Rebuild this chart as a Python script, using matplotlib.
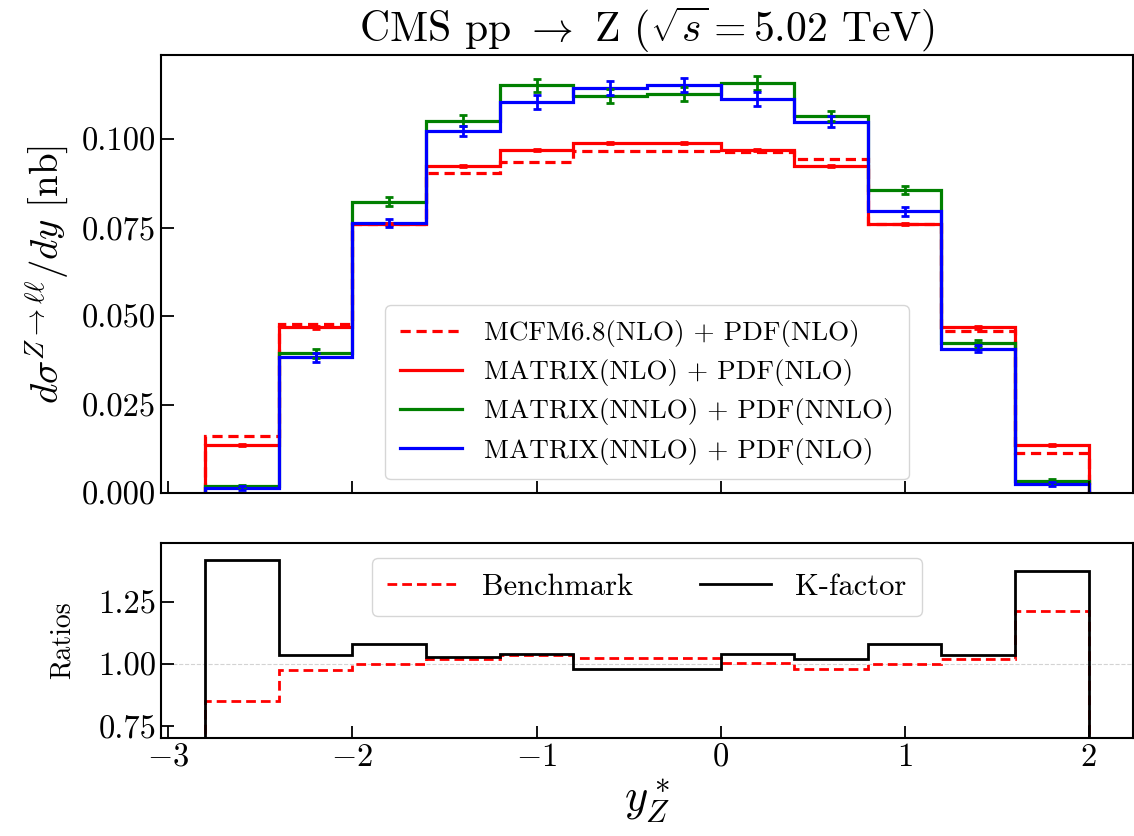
import numpy as np
import matplotlib
matplotlib.use("Agg")
import matplotlib.pyplot as plt

plt.rcParams.update({
    "font.family": "serif",
    "font.serif": ["cmr10"],
    "mathtext.fontset": "cm",
    "axes.formatter.use_mathtext": True,
    "axes.unicode_minus": True,
})

# bin edges in y*_Z
edges = np.array([-2.8, -2.4, -2.0, -1.6, -1.2, -0.8, -0.4, 0.0, 0.4, 0.8, 1.2, 1.6, 2.0])

# dsigma/dy [nb]
mcfm_nlo = [0.0160, 0.0478, 0.0760, 0.0906, 0.0937, 0.0967, 0.0967, 0.0964, 0.0944, 0.0761, 0.0459, 0.0113]
matrix_nlo = [0.0136, 0.0468, 0.0761, 0.0924, 0.0970, 0.0989, 0.0989, 0.0970, 0.0924, 0.0761, 0.0468, 0.0136]
matrix_nnlo_nnlo = [0.0019, 0.0395, 0.0824, 0.1053, 0.1153, 0.1123, 0.1129, 0.1160, 0.1066, 0.0857, 0.0424, 0.0033]
matrix_nnlo_nlo = [0.0014, 0.0384, 0.0763, 0.1024, 0.1106, 0.1144, 0.1153, 0.1113, 0.1050, 0.0796, 0.0408, 0.0025]

err_nlo = [0.0002, 0.0003, 0.0003, 0.0003, 0.0003, 0.0003, 0.0003, 0.0003, 0.0003, 0.0003, 0.0003, 0.0002]
err_nnlo_nnlo = [0.0005, 0.0013, 0.0012, 0.0015, 0.0019, 0.0020, 0.0020, 0.0020, 0.0015, 0.0012, 0.0010, 0.0006]
err_nnlo_nlo = [0.0005, 0.0013, 0.0012, 0.0015, 0.0019, 0.0020, 0.0020, 0.0020, 0.0015, 0.0012, 0.0010, 0.0006]

# ratios
benchmark = [0.848, 0.973, 0.997, 1.020, 1.034, 1.024, 1.024, 1.004, 0.980, 1.000, 1.020, 1.212]
kfactor = [1.416, 1.034, 1.078, 1.027, 1.040, 0.980, 0.980, 1.040, 1.017, 1.077, 1.036, 1.374]

centers = 0.5 * (edges[:-1] + edges[1:])

fig = plt.figure(figsize=(11.34, 8.36), dpi=100)
ax = fig.add_axes([0.142, 0.4103, 0.857, 0.5237])
rax = fig.add_axes([0.142, 0.1172, 0.857, 0.2333], sharex=ax)

lw = 2.3
ax.stairs(mcfm_nlo, edges, baseline=0, color="red", lw=lw, ls=(0, (3.2, 1.8)),
          label="MCFM6.8(NLO) + PDF(NLO)")
ax.stairs(matrix_nlo, edges, baseline=0, color="red", lw=lw,
          label="MATRIX(NLO) + PDF(NLO)")
ax.stairs(matrix_nnlo_nnlo, edges, baseline=0, color="green", lw=lw,
          label="MATRIX(NNLO) + PDF(NNLO)")
ax.stairs(matrix_nnlo_nlo, edges, baseline=0, color="blue", lw=lw,
          label="MATRIX(NNLO) + PDF(NLO)")

ax.errorbar(centers, matrix_nlo, yerr=err_nlo, fmt="none", ecolor="red",
            elinewidth=2, capsize=3, capthick=2)
ax.errorbar(centers, matrix_nnlo_nnlo, yerr=err_nnlo_nnlo, fmt="none", ecolor="green",
            elinewidth=2, capsize=3, capthick=2)
ax.errorbar(centers, matrix_nnlo_nlo, yerr=err_nnlo_nlo, fmt="none", ecolor="blue",
            elinewidth=2, capsize=3, capthick=2)

ax.set_xlim(-3.04, 2.24)
ax.set_ylim(0, 0.1238)
ax.set_yticks([0.0, 0.025, 0.05, 0.075, 0.1])
ax.set_yticklabels(["0.000", "0.025", "0.050", "0.075", "0.100"])
ax.set_ylabel(r"$d\sigma^{Z\rightarrow\ell\ell}/dy$ [nb]", fontsize=28, labelpad=8)
ax.set_title(r"CMS pp $\rightarrow$ Z ($\sqrt{s}=5.02$ TeV)", fontsize=30, pad=7)
ax.legend(loc="lower center", fontsize=19.5, handlelength=2.3, borderpad=0.55,
          labelspacing=0.45, bbox_to_anchor=(0.5, 0.0))
ax.tick_params(labelbottom=False)

rax.stairs(benchmark, edges, baseline=0, color="red", lw=2.0, ls=(0, (3.5, 1.8)), label="Benchmark")
rax.stairs(kfactor, edges, baseline=0, color="black", lw=2.0, label="K-factor")
rax.axhline(1.0, color="lightgray", ls="--", lw=0.8, zorder=0)
rax.set_ylim(0.70, 1.486)
rax.set_yticks([0.75, 1.0, 1.25])
rax.set_yticklabels(["0.75", "1.00", "1.25"])
rax.set_ylabel("Ratios", fontsize=20, labelpad=16)
rax.set_xlabel(r"$y_Z^*$", fontsize=32, labelpad=4)
rax.legend(loc="upper center", ncol=2, fontsize=22, handlelength=2.3,
           columnspacing=2.2, borderpad=0.5)

for a in (ax, rax):
    a.tick_params(direction="in", length=9, width=1.3, labelsize=23.5)
    for s in a.spines.values():
        s.set_linewidth(1.5)

fig.savefig("out.png", dpi=100)
